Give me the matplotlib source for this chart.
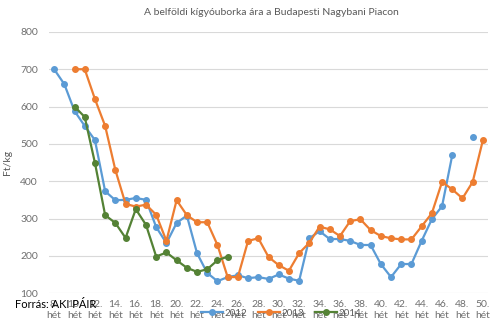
import numpy as np
import matplotlib.pyplot as plt

# hetek (8. hét - 50. hét)
hetek = list(range(8, 51))
nan = np.nan

ar_2012 = [700, 660, 588, 548, 510, 373, 349, 350, 355, 350, 277, 234, 288, 308, 207, 154,
           132, 143, 148, 140, 143, 138, 150, 139, 133, 247, 266, 245, 245, 240, 229, 229,
           178, 143, 178, 178, 240, 298, 333, 470, nan, 518, nan]
ar_2013 = [nan, nan, 700, 700, 620, 548, 430, 339, 332, 337, 310, 240, 349, 309, 290, 290,
           229, 143, 143, 240, 247, 197, 175, 160, 207, 235, 278, 271, 253, 293, 298, 269,
           253, 247, 244, 244, 279, 314, 398, 378, 354, 398, 510]
ar_2014 = [nan, nan, 600, 572, 449, 309, 288, 248, 325, 283, 198, 209, 188, 168, 157, 164,
           188, 198] + [nan] * 25

tick_cimkek = [f"{h}.\nhét" if h % 2 == 0 else "" for h in hetek]

plt.rcParams['font.family'] = ['Lato', 'DejaVu Sans']

fig = plt.figure(figsize=(5, 3.29), dpi=100)
ax = fig.add_axes([0.098, 0.109, 0.878, 0.794])

x = np.arange(len(hetek))
ax.plot(x, ar_2012, color="#5B9BD5", marker="o", markersize=4, linewidth=1.6, label="2012")
ax.plot(x, ar_2013, color="#ED7D31", marker="o", markersize=4, linewidth=1.6, label="2013")
ax.plot(x, ar_2014, color="#548235", marker="o", markersize=4, linewidth=1.6, label="2014")

ax.set_xlim(-0.5, len(hetek) - 0.5)
ax.set_ylim(100, 800)
ax.set_yticks(range(100, 801, 100))
ax.set_xticks(x)
ax.set_xticklabels(tick_cimkek, fontsize=7.5, color="#6F6F6F", linespacing=1.25)
ax.tick_params(axis='y', labelsize=7.5, labelcolor="#6F6F6F", length=0, pad=8)
ax.tick_params(axis='x', length=0, pad=5)
ax.grid(axis='y', color="#D9D9D9", linewidth=0.8)
ax.set_axisbelow(True)
for s in ax.spines.values():
    s.set_visible(False)

ax.set_ylabel("Ft/kg", fontsize=7.5, color="#595959", labelpad=6)
fig.text(0.543, 0.963, "A belföldi kígyóuborka ára a Budapesti Nagybani Piacon",
         ha="center", va="center", fontsize=7.5, color="#595959")

fig.legend(loc="center", bbox_to_anchor=(0.562, 1 - 313 / 329), ncol=3, frameon=False,
           fontsize=7, handlelength=2.3, columnspacing=1.1, handletextpad=0.15,
           labelcolor="#595959")

fig.text(0.03, 1 - 304 / 329, "Forrás: AKI PÁIR", ha="left", va="center",
         fontsize=8, color="black")

fig.savefig("out.png", dpi=100)
